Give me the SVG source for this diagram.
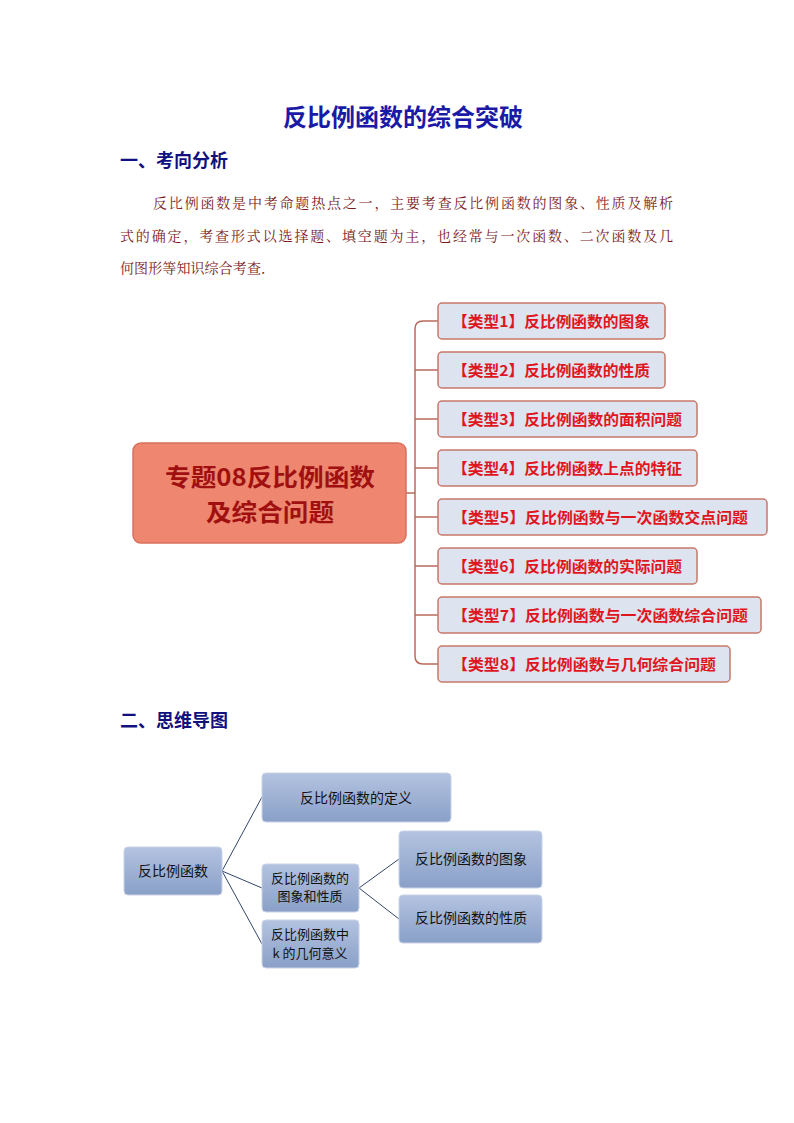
<svg xmlns="http://www.w3.org/2000/svg" width="794" height="1123" viewBox="0 0 794 1123">
<defs>
<linearGradient id="bg" x1="0" y1="0" x2="0" y2="1"><stop offset="0" stop-color="#b3c3e0"/><stop offset="1" stop-color="#8aa0c8"/></linearGradient>
<style>
text{font-family:"Noto Sans CJK SC","Liberation Sans",sans-serif}
.h1{font-size:24px;font-weight:bold;fill:#1a1aa6}
.h2{font-size:18px;font-weight:bold;fill:#101080}
.p{font-size:14px;fill:#7a1a1a;font-family:"Noto Serif CJK SC","Noto Sans CJK SC",serif}
.tb{fill:#dde3ef;stroke:#c8786a;stroke-width:1.5}
.tt{font-size:15px;font-weight:bold;fill:#e0161e}
.cn{fill:#ee8670;stroke:#d8705c;stroke-width:1.5}
.ct{font-size:24px;font-weight:bold;fill:#a01010}
.con{fill:none;stroke:#b86a5c;stroke-width:1.5}
.bb{fill:url(#bg);stroke:#c8d2e6;stroke-width:1}
.bt{font-size:14px;fill:#111}
.bs{font-size:13px;fill:#111}
.bl{stroke:#34466a;stroke-width:1;fill:none}
</style>
</defs>
<text class="h1" x="403" y="126" text-anchor="middle">反比例函数的综合突破</text>
<text class="h2" x="120" y="167">一、考向分析</text>
<text class="p" x="153" y="208" textLength="520" lengthAdjust="spacing">反比例函数是中考命题热点之一，主要考查反比例函数的图象、性质及解析</text>
<text class="p" x="120" y="241" textLength="553" lengthAdjust="spacing">式的确定，考查形式以选择题、填空题为主，也经常与一次函数、二次函数及几</text>
<text class="p" x="120" y="273" textLength="155" lengthAdjust="spacing">何图形等知识综合考查．</text>
<g id="connectors1">
<path class="con" d="M406,493 H415"/>
<path class="con" d="M438,321 H423 Q415,321 415,329 V656 Q415,664 423,664 H438"/>
<path class="con" d="M415,370 H438 M415,419 H438 M415,468 H438 M415,517 H438 M415,566 H438 M415,615 H438"/>
</g>
<g id="center"><rect class="cn" x="133" y="443" width="273" height="100" rx="8"/>
<text class="ct" x="270" y="486" text-anchor="middle" textLength="210" lengthAdjust="spacingAndGlyphs">专题08反比例函数</text>
<text class="ct" x="270" y="521" text-anchor="middle" textLength="128" lengthAdjust="spacingAndGlyphs">及综合问题</text></g>
<g id="t1"><rect class="tb" x="438" y="303" width="227" height="36" rx="4"/><text class="tt" x="452" y="327" textLength="198" lengthAdjust="spacingAndGlyphs">【类型1】反比例函数的图象</text></g>
<g id="t2"><rect class="tb" x="438" y="352" width="227" height="36" rx="4"/><text class="tt" x="452" y="376" textLength="198" lengthAdjust="spacingAndGlyphs">【类型2】反比例函数的性质</text></g>
<g id="t3"><rect class="tb" x="438" y="401" width="259" height="36" rx="4"/><text class="tt" x="452" y="425" textLength="230" lengthAdjust="spacingAndGlyphs">【类型3】反比例函数的面积问题</text></g>
<g id="t4"><rect class="tb" x="438" y="450" width="259" height="36" rx="4"/><text class="tt" x="452" y="474" textLength="230" lengthAdjust="spacingAndGlyphs">【类型4】反比例函数上点的特征</text></g>
<g id="t5"><rect class="tb" x="438" y="499" width="329" height="36" rx="4"/><text class="tt" x="452" y="523" textLength="296" lengthAdjust="spacingAndGlyphs">【类型5】反比例函数与一次函数交点问题</text></g>
<g id="t6"><rect class="tb" x="438" y="548" width="259" height="36" rx="4"/><text class="tt" x="452" y="572" textLength="230" lengthAdjust="spacingAndGlyphs">【类型6】反比例函数的实际问题</text></g>
<g id="t7"><rect class="tb" x="438" y="597" width="323" height="36" rx="4"/><text class="tt" x="452" y="621" textLength="296" lengthAdjust="spacingAndGlyphs">【类型7】反比例函数与一次函数综合问题</text></g>
<g id="t8"><rect class="tb" x="438" y="646" width="292" height="36" rx="4"/><text class="tt" x="452" y="670" textLength="264" lengthAdjust="spacingAndGlyphs">【类型8】反比例函数与几何综合问题</text></g>
<text class="h2" x="120" y="727">二、思维导图</text>
<g id="connectors2">
<path class="bl" d="M222,871 L262,797 M222,871 L262,888 M222,871 L262,944 M359,888 L399,859 M359,888 L399,919"/>
</g>
<g id="m0"><rect class="bb" x="124" y="847" width="98" height="48" rx="4"/><text class="bt" x="173" y="876" text-anchor="middle">反比例函数</text></g>
<g id="m1"><rect class="bb" x="262" y="773" width="189" height="49" rx="4"/><text class="bt" x="356" y="803" text-anchor="middle">反比例函数的定义</text></g>
<g id="m2"><rect class="bb" x="262" y="864" width="97" height="48" rx="4"/><text class="bs" x="310" y="883" text-anchor="middle">反比例函数的</text><text class="bs" x="310" y="901" text-anchor="middle">图象和性质</text></g>
<g id="m3"><rect class="bb" x="262" y="920" width="97" height="48" rx="4"/><text class="bs" x="310" y="939" text-anchor="middle">反比例函数中</text><text class="bs" x="310" y="958" text-anchor="middle">k 的几何意义</text></g>
<g id="m4"><rect class="bb" x="399" y="831" width="143" height="57" rx="4"/><text class="bt" x="471" y="864" text-anchor="middle">反比例函数的图象</text></g>
<g id="m5"><rect class="bb" x="399" y="895" width="143" height="48" rx="4"/><text class="bt" x="471" y="923" text-anchor="middle">反比例函数的性质</text></g>
</svg>
